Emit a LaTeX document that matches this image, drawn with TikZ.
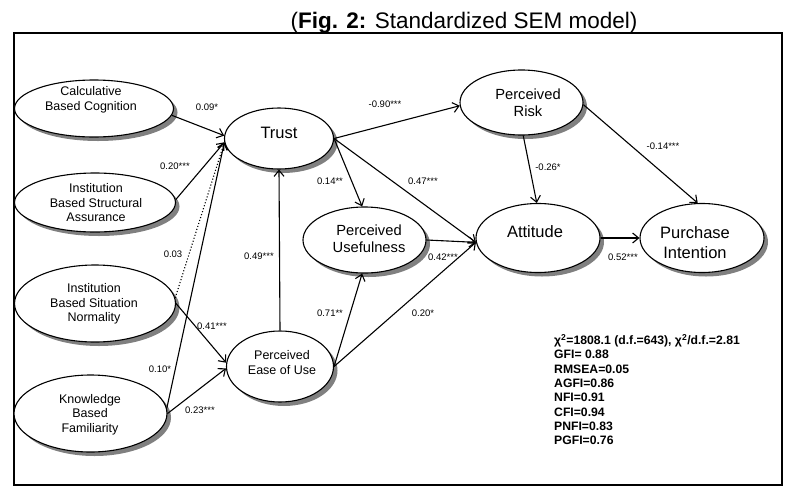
\documentclass[tikz,border=0pt]{standalone}
\usepackage{fontspec}
\setmainfont{Liberation Sans}
\usetikzlibrary{arrows.meta,shapes.geometric,shadows}

\begin{document}
\begin{tikzpicture}[
  x=1pt, y=-1pt,
  latent/.style={ellipse, draw, line width=1.1pt, fill=white, inner sep=0pt,
    drop shadow={shadow xshift=4pt, shadow yshift=-4pt, fill=gray, opacity=1}},
  tsmall/.style={font=\fontsize{12.5}{14.5}\selectfont, align=center, inner sep=0pt},
  tmid/.style={font=\fontsize{14.7}{17}\selectfont, align=center, inner sep=0pt},
  tbig/.style={font=\fontsize{16.5}{20}\selectfont, align=center, inner sep=0pt},
  coef/.style={font=\fontsize{9.5}{11}\selectfont, inner sep=0pt},
  arr/.style={-{Straight Barb[length=6pt, width=10pt]}, line width=1.1pt},
]
  \useasboundingbox (0,0) rectangle (787,488);

  % Title and frame
  \node[font=\fontsize{22.5}{27}\selectfont, anchor=base, inner sep=0pt] (title) at (464,28.5)
    {(\textbf{Fig. 2:} Standardized SEM model)};
  \draw[line width=2pt] (13.5,33) rectangle (781.5,484.5);

  % Exogenous constructs
  \node[latent, minimum width=159pt, minimum height=57pt] (cbc) at (94,108.5) {};
  \node[latent, minimum width=161pt, minimum height=59pt] (ibsa) at (95,202.5) {};
  \node[latent, minimum width=161pt, minimum height=77pt] (ibsn) at (95,303.5) {};
  \node[latent, minimum width=153pt, minimum height=77pt] (kbf) at (90.5,413.5) {};

  % Endogenous constructs
  \node[latent, minimum width=109pt, minimum height=61pt] (trust) at (279,138.5) {};
  \node[latent, minimum width=107pt, minimum height=71pt] (peou) at (280,366.5) {};
  \node[latent, minimum width=123pt, minimum height=66pt] (pu) at (364.5,240) {};
  \node[latent, minimum width=123pt, minimum height=65pt] (pr) at (521.5,102.5) {};
  \node[latent, minimum width=124pt, minimum height=69pt] (att) at (538,238) {};
  \node[latent, minimum width=124pt, minimum height=69pt] (pi) at (702,238) {};

  % Construct names
  \node[tsmall] (cbc-t) at (91,100) {Calculative\\Based Cognition};
  \node[tsmall] (ibsa-t) at (96,203) {Institution\\Based Structural\\Assurance};
  \node[tsmall] (ibsn-t) at (94,304) {Institution\\Based Situation\\Normality};
  \node[tsmall] (kbf-t) at (90,414.5) {Knowledge\\Based\\Familiarity};
  \node[tbig] (trust-t) at (279,132.5) {Trust};
  \node[tsmall] (peou-t) at (282,362.5) {Perceived\\Ease of Use};
  \node[tmid] (pu-t) at (369,239) {Perceived\\Usefulness};
  \node[tmid] (pr-t) at (528,103) {Perceived\\Risk};
  \node[tbig] (att-t) at (535,232) {Attitude};
  \node[tbig] (pi-t) at (695,242.5) {Purchase\\Intention};

  % Paths
  \draw[arr] (cbc.-5) -- (trust.177);
  \draw[arr] (ibsa.2) -- (trust.184);
  \draw[arr, dotted] (ibsn.4) -- (trust.184);
  \draw[arr] (kbf.4) -- (trust.184);
  \draw[arr] (ibsn.0) -- (peou.176);
  \draw[arr] (kbf.0) -- (peou.182);
  \draw[arr] (peou.north) -- (trust.south);
  \draw[arr] (peou.east) -- (pu.266);
  \draw[arr] (peou.east) -- (att.184);
  \draw[arr] (trust.east) -- (pu.94);
  \draw[arr] (trust.east) -- (att.184);
  \draw[arr] (trust.east) -- (pr.183);
  \draw[arr] (pu.east) -- (att.184);
  \draw[arr] (pr.-87) -- (att.92);
  \draw[arr] (pr.-2) -- (pi.97);
  \draw[arr] (att.east) -- (pi.west);

  % Path coefficients
  \foreach \px/\py/\val/\nm in {207/107/0.09*/c1, 175/166/0.20***/c2, 173/254/0.03/c3,
      160/369/0.10*/c4, 212/326/0.41***/c5, 200/410/0.23***/c6, 259/256/0.49***/c7,
      330/313/0.71**/c8, 423/313/0.20*/c9, 330/181/0.14**/c10, 423/181/0.47***/c11,
      385/104/-0.90***/c12, 443/257/0.42***/c13, 548/167/-0.26*/c14,
      663/146/-0.14***/c15, 623/257/0.52***/c16}
    \node[coef] (\nm) at (\px,\py) {\val};

  % Fit indices
  \node[font=\bfseries\fontsize{12.2}{14.3}\selectfont, align=left, anchor=north west, inner sep=0pt] (fit) at (554,334)
    {χ\textsuperscript{2}=1808.1 (d.f.=643), χ\textsuperscript{2}/d.f.=2.81\\GFI= 0.88\\RMSEA=0.05\\AGFI=0.86\\NFI=0.91\\CFI=0.94\\PNFI=0.83\\PGFI=0.76};

\end{tikzpicture}
\end{document}
